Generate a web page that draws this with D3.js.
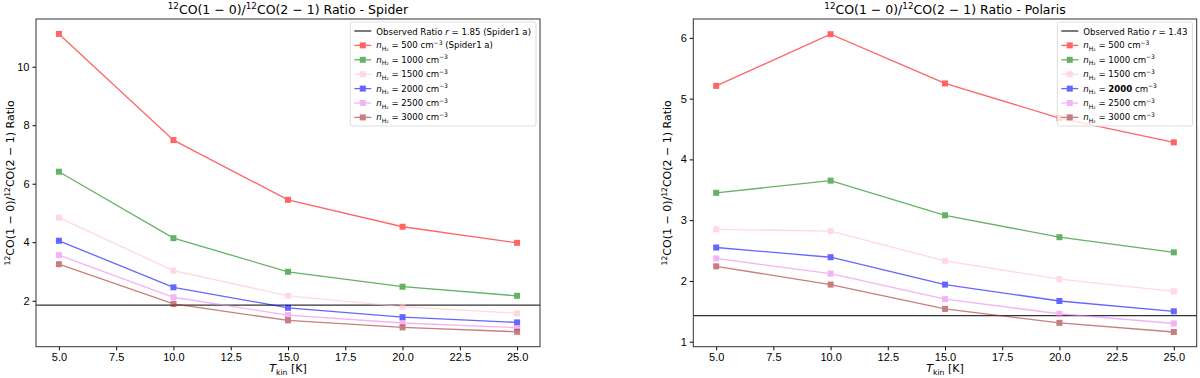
<!DOCTYPE html>
<html>
<head>
<meta charset="utf-8">
<script src="https://cdn.jsdelivr.net/npm/d3@7"></script>
<style>
  body { margin: 0; background: #fff; }
  svg { font-family: 'DejaVu Sans', sans-serif; }
  .tick text { font-size: 11px; fill: #000; }
  .tick line { stroke: #000; }
  .domain { display: none; }
</style>
</head>
<body>
<div id="chart"></div>
<script>
// data
const temps = [5, 10, 15, 20, 25];
const densities = [500, 1000, 1500, 2000, 2500, 3000];
const seriesColors = ['red', 'green', 'pink', 'blue', 'violet', 'brown'];

const spider500 = [11.12, 7.49, 5.45, 4.53, 3.98];
const spider1000 = [6.41, 4.14, 2.99, 2.48, 2.17];
const spider1500 = [4.84, 3.03, 2.17, 1.80, 1.57];
const spider2000 = [4.05, 2.46, 1.76, 1.44, 1.26];
const spider2500 = [3.56, 2.12, 1.51, 1.24, 1.08];
const spider3000 = [3.25, 1.89, 1.33, 1.09, 0.94];
const spiderObserved = 1.85;

const polaris500 = [5.21, 6.06, 5.25, 4.68, 4.28];
const polaris1000 = [3.45, 3.65, 3.08, 2.72, 2.47];
const polaris1500 = [2.85, 2.82, 2.33, 2.03, 1.83];
const polaris2000 = [2.55, 2.39, 1.94, 1.67, 1.50];
const polaris2500 = [2.37, 2.12, 1.70, 1.46, 1.30];
const polaris3000 = [2.24, 1.94, 1.54, 1.31, 1.16];
const polarisObserved = 1.43;

const xTicks = [5, 7.5, 10, 12.5, 15, 17.5, 20, 22.5, 25];
const spiderYTicks = [2, 4, 6, 8, 10];
const polarisYTicks = [1, 2, 3, 4, 5, 6];

const svg = d3.select('#chart').append('svg')
    .attr('width', 1200)
    .attr('height', 378);

// rich text helper: parts are [text, 'kind kind'] with kinds sup/sub/it/b/down/up
function richText(sel, parts, size) {
    parts.forEach(p => {
        const t = sel.append('tspan').text(p[0]);
        const kinds = (p[1] || '').split(' ');
        let dy = 0;
        if (kinds.includes('down')) dy += size * 0.4;   // back from a superscript
        if (kinds.includes('up')) dy -= size * 0.3;     // back from a subscript
        if (kinds.includes('sup')) { t.attr('font-size', size * 0.7); dy -= size * 0.4; }
        if (kinds.includes('sub')) { t.attr('font-size', size * 0.7); dy += size * 0.3; }
        if (dy !== 0) t.attr('dy', dy);
        if (kinds.includes('it')) t.attr('font-style', 'italic');
        if (kinds.includes('b')) t.attr('font-weight', 'bold');
    });
}

const ratioParts = [['12', 'sup'], ['CO(1 − 0)/', 'down'], ['12', 'sup'], ['CO(2 − 1) Ratio', 'down']];

function densityParts(d, extra, boldNum) {
    return [['n', 'it'], ['H₂', 'sub'], [' = ', 'up'],
            [String(d), boldNum ? 'b' : ''], [' cm', ''], ['−3', 'sup'],
            [extra || '', 'down']];
}

function drawPanel(opts) {
    const {left, right, top, bottom, yDomain, yTicks, series, observed, title, legendRight, firstExtra, boldIdx} = opts;

    const x = d3.scaleLinear().domain([4, 26]).range([left, right]);
    const y = d3.scaleLinear().domain(yDomain).range([bottom, top]);

    const g = svg.append('g');

    // axes
    g.append('g')
        .attr('transform', `translate(0, ${bottom})`)
        .call(d3.axisBottom(x).tickValues(xTicks).tickFormat(d3.format('.1f')).tickSize(3.5).tickPadding(3));
    g.append('g')
        .attr('transform', `translate(${left}, 0)`)
        .call(d3.axisLeft(y).tickValues(yTicks).tickFormat(d3.format('d')).tickSize(3.5).tickPadding(3));

    // observed ratio line
    g.append('line')
        .attr('x1', left).attr('x2', right)
        .attr('y1', y(observed)).attr('y2', y(observed))
        .attr('stroke', '#000').attr('stroke-width', 1.3).attr('opacity', 0.8);

    // model series
    const line = d3.line().x((d, i) => x(temps[i])).y(d => y(d));
    series.forEach((vals, k) => {
        const sg = g.append('g').attr('opacity', 0.6);
        sg.append('path')
            .attr('d', line(vals))
            .attr('fill', 'none')
            .attr('stroke', seriesColors[k])
            .attr('stroke-width', 1.3);
        sg.selectAll('rect')
            .data(vals)
            .join('rect')
            .attr('x', (d, i) => x(temps[i]) - 3)
            .attr('y', d => y(d) - 3)
            .attr('width', 6)
            .attr('height', 6)
            .attr('fill', seriesColors[k]);
    });

    // frame
    g.append('rect')
        .attr('x', left).attr('y', top)
        .attr('width', right - left).attr('height', bottom - top)
        .attr('fill', 'none').attr('stroke', '#333').attr('stroke-width', 1);

    // title
    const tt = g.append('text')
        .attr('x', (left + right) / 2).attr('y', 14)
        .attr('text-anchor', 'middle')
        .attr('font-size', 12.5);
    richText(tt, ratioParts.concat([[title, '']]), 12.5);

    // axis labels
    const xl = g.append('text')
        .attr('x', (left + right) / 2).attr('y', 372)
        .attr('text-anchor', 'middle')
        .attr('font-size', 11);
    richText(xl, [['T', 'it'], ['kin', 'sub'], [' [K]', 'up']], 11);

    const yl = g.append('text')
        .attr('transform', `translate(${left - 22}, ${(top + bottom) / 2}) rotate(-90)`)
        .attr('text-anchor', 'middle')
        .attr('font-size', 11);
    richText(yl, ratioParts, 11);

    // legend
    const lg = g.append('g');
    const box = lg.append('rect')
        .attr('height', 104)
        .attr('rx', 2)
        .attr('fill', '#fff').attr('fill-opacity', 0.8)
        .attr('stroke', '#ddd');
    const fs = 8.6;
    const rowY = i => 9 + i * 14.4;
    lg.append('line')
        .attr('x1', 4).attr('x2', 21)
        .attr('y1', rowY(0)).attr('y2', rowY(0))
        .attr('stroke', '#000').attr('stroke-width', 1.3).attr('opacity', 0.8);
    const ot = lg.append('text').attr('x', 26).attr('y', rowY(0) + 3.5).attr('font-size', fs);
    richText(ot, [['Observed Ratio ', ''], ['r', 'it'], [' = ' + observed.toFixed(2) + (opts.obsExtra || ''), '']], fs);

    densities.forEach((d, k) => {
        const ry = rowY(k + 1);
        const item = lg.append('g').attr('opacity', 0.6);
        item.append('line')
            .attr('x1', 4).attr('x2', 21)
            .attr('y1', ry).attr('y2', ry)
            .attr('stroke', seriesColors[k]).attr('stroke-width', 1.3);
        item.append('rect')
            .attr('x', 9.5).attr('y', ry - 3)
            .attr('width', 6).attr('height', 6)
            .attr('fill', seriesColors[k]);
        const t = lg.append('text').attr('x', 26).attr('y', ry + 3).attr('font-size', fs);
        richText(t, densityParts(d, k === 0 ? firstExtra : '', k === boldIdx), fs);
    });

    // size the box to its texts and pin it to the upper right
    let maxW = 0;
    lg.selectAll('text').each(function() { maxW = Math.max(maxW, this.getBBox().width); });
    const w = 26 + maxW + 5;
    box.attr('width', w);
    lg.attr('transform', `translate(${legendRight - w}, 22)`);
}

drawPanel({
    left: 36, right: 540, top: 19, bottom: 346.7,
    yDomain: [0.43, 11.63], yTicks: spiderYTicks,
    series: [spider500, spider1000, spider1500, spider2000, spider2500, spider3000],
    observed: spiderObserved, obsExtra: ' (Spider1 a)',
    title: ' - Spider',
    legendRight: 536, firstExtra: ' (Spider1 a)', boldIdx: -1
});

drawPanel({
    left: 693.3, right: 1196.7, top: 19, bottom: 346.7,
    yDomain: [0.918, 6.31], yTicks: polarisYTicks,
    series: [polaris500, polaris1000, polaris1500, polaris2000, polaris2500, polaris3000],
    observed: polarisObserved, obsExtra: '',
    title: ' - Polaris',
    legendRight: 1192.5, firstExtra: '', boldIdx: 3
});
</script>
</body>
</html>
